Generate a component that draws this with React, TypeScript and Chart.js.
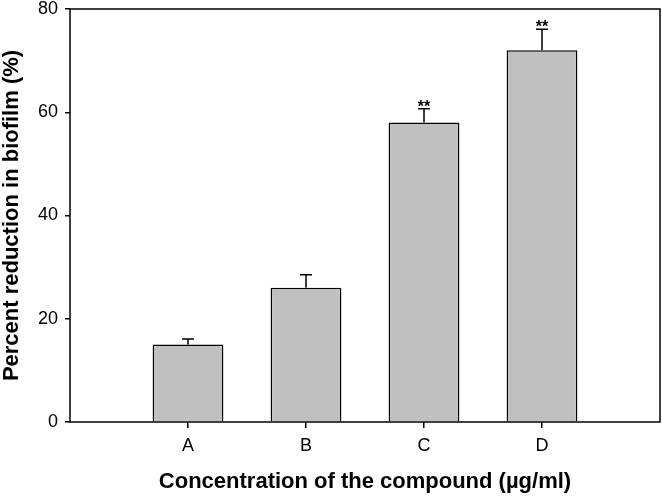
import React, { useEffect, useRef } from "react";
import { Chart, registerables } from "chart.js";

Chart.register(...registerables);

const categories = ["A", "B", "C", "D"];
const values = [15, 26, 58, 72];
const errors = [1.1, 2.5, 2.7, 4.1];
const significance = ["", "", "**", "**"];
const yTicks = [0, 20, 40, 60, 80];

const FONT = "'Liberation Sans', Arial, Helvetica, sans-serif";

const labels = ["", ...categories, ""];
const barData = [null, ...values, null];

const frameAndErrors = {
  id: "frameAndErrors",
  afterDatasetsDraw(chart: any) {
    const { ctx, chartArea, scales } = chart;
    const x = scales.x;
    const y = scales.y;
    ctx.save();
    ctx.strokeStyle = "#000";
    ctx.lineWidth = 1.5;
    categories.forEach((c, i) => {
      const cx = x.getPixelForValue(i + 1);
      const top = y.getPixelForValue(values[i]);
      const capY = y.getPixelForValue(values[i] + errors[i]);
      ctx.beginPath();
      ctx.moveTo(cx, top);
      ctx.lineTo(cx, capY);
      ctx.moveTo(cx - 6, capY);
      ctx.lineTo(cx + 6, capY);
      ctx.stroke();
      if (significance[i]) {
        ctx.fillStyle = "#000";
        ctx.font = `bold 16px ${FONT}`;
        ctx.textAlign = "center";
        ctx.textBaseline = "alphabetic";
        ctx.fillText(significance[i], cx, capY + 3);
      }
    });
    ctx.strokeRect(chartArea.left, chartArea.top, chartArea.right - chartArea.left, chartArea.bottom - chartArea.top);
    ctx.restore();
  },
};

export default function App() {
  const ref = useRef<HTMLCanvasElement | null>(null);
  useEffect(() => {
    document.body.style.margin = "0";
    const canvas = ref.current;
    if (!canvas) return;
    const chart = new Chart(canvas, {
      type: "bar",
      data: {
        labels,
        datasets: [
          {
            data: barData as any,
            backgroundColor: "#c0c0c0",
            borderColor: "#000",
            borderWidth: 1.5,
            barPercentage: 0.6,
            categoryPercentage: 1.0,
          },
        ],
      },
      options: {
        responsive: false,
        maintainAspectRatio: false,
        animation: false,
        devicePixelRatio: 1,
        layout: { padding: { left: 0, right: 2, top: 9, bottom: 0 } },
        plugins: { legend: { display: false }, tooltip: { enabled: false } },
        scales: {
          x: {
            type: "category",
            offset: false,
            afterFit: (s: any) => {
              s.height = 76;
              s.paddingLeft = 0;
              s.paddingRight = 0;
            },
            border: { display: false },
            grid: {
              offset: false,
              drawOnChartArea: false,
              drawTicks: true,
              tickLength: 6,
              lineWidth: 1.5,
              color: (ctx: any) =>
                ctx.index === 0 || ctx.index === labels.length - 1 ? "rgba(0,0,0,0)" : "#000",
            },
            ticks: {
              color: "#000",
              padding: 7,
              maxRotation: 0,
              autoSkip: false,
              font: { family: FONT, size: 18 },
            },
            title: {
              display: true,
              text: "Concentration of the compound (µg/ml)",
              color: "#000",
              font: { family: FONT, size: 22, weight: "bold", lineHeight: 1.1 },
              padding: { top: 0, bottom: 4 },
            },
          },
          y: {
            min: 0,
            max: 80,
            afterFit: (s: any) => {
              s.width = 70;
              s.paddingTop = 0;
              s.paddingBottom = 0;
            },
            afterBuildTicks: (s: any) => {
              s.ticks = yTicks.map((v) => ({ value: v }));
            },
            border: { display: false },
            grid: {
              drawOnChartArea: false,
              drawTicks: true,
              tickLength: 5,
              lineWidth: 1.5,
              color: "#000",
            },
            ticks: {
              color: "#000",
              padding: 7,
              font: { family: FONT, size: 18 },
            },
            title: {
              display: true,
              text: "Percent reduction in biofilm (%)",
              color: "#000",
              font: { family: FONT, size: 22, weight: "bold", lineHeight: 1.1 },
              padding: { top: 0, bottom: 0 },
            },
          },
        },
      },
      plugins: [frameAndErrors],
    });
    return () => chart.destroy();
  }, []);
  return (
    <div style={{ width: 662, height: 498 }}>
      <canvas ref={ref} width={662} height={498} style={{ display: "block" }} />
    </div>
  );
}
